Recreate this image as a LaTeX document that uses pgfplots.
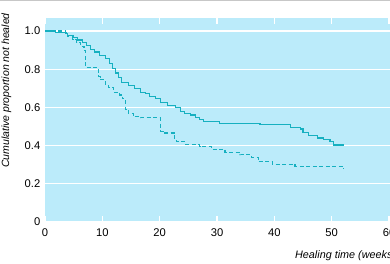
\documentclass[border=0pt]{standalone}
\usepackage{pgfplots}
\pgfplotsset{compat=1.18}
\usepackage{fontspec}
\setmainfont{Liberation Sans}
\usetikzlibrary{calc}
\definecolor{bgcol}{RGB}{187,235,250}
\definecolor{linecol}{RGB}{22,176,192}
\begin{document}
\begin{tikzpicture}
\begin{axis}[
  scale only axis,
  width=345pt, height=204pt,
  xmin=0, xmax=60.17, ymin=0, ymax=1.068,
  axis line style={draw=none},
  axis background/.style={fill=bgcol},
  xtick={0,10,20,30,40,50,60},
  xticklabels={0,10,20,30,40,50,60},
  ytick={0,0.2,0.4,0.6,0.8,1.0},
  yticklabels={0,0.2,0.4,0.6,0.8,1.0},
  tick align=inside,
  major tick length=6pt,
  xtick style={draw=white, line width=1.3pt},
  ytick style={draw=none},
  ymajorgrids,
  major grid style={draw=white, line width=1.3pt},
  tick label style={font=\fontsize{11.2}{13}\selectfont, inner sep=0pt},
  xticklabel style={yshift=-6pt, anchor=north},
  yticklabel style={xshift=-4.5pt, anchor=east},
  every axis x label/.style={at={(rel axis cs:0.7246,-0.181)}, anchor=base west, inner sep=0pt, font=\fontsize{10.8}{13}\selectfont\itshape},
  every axis y label/.style={at={(rel axis cs:-0.1116,0.6446)}, rotate=90, anchor=center, inner sep=0pt, font=\fontsize{10.5}{13}\selectfont\itshape},
  xlabel={Healing time (weeks)},
  ylabel={Cumulative proportion not healed},
  clip=false,
]
\addplot[const plot, linecol, line width=1.1pt] coordinates {
(0,1.0) (1.8,0.993) (3.5,0.985) (4.0,0.975) (5.0,0.965) (5.6,0.953) (6.5,0.94)
(7.2,0.925) (7.9,0.905) (8.6,0.89) (9.5,0.87) (10.5,0.855) (11.2,0.83) (11.8,0.805)
(12.3,0.78) (12.8,0.755) (13.4,0.73) (14.6,0.715) (15.6,0.70) (16.6,0.68) (17.5,0.675)
(18.3,0.655) (19.2,0.645) (20.1,0.625) (21.4,0.61) (22.7,0.60) (23.6,0.58) (24.3,0.57)
(25.3,0.56) (26.2,0.545) (27.0,0.535) (27.6,0.524) (30.5,0.518) (37.5,0.51) (42.8,0.497)
(44.5,0.487) (45.0,0.47) (46.0,0.455) (47.5,0.44) (48.5,0.43) (49.7,0.42) (50.3,0.403)
(52.0,0.398)
};
\addplot[const plot, linecol, line width=1.1pt, dash pattern=on 4pt off 2.5pt] coordinates {
(0,1.0) (3.5,0.99) (4.0,0.97) (4.8,0.955) (5.5,0.94) (6.2,0.92) (6.8,0.90) (7.0,0.81)
(9.0,0.80) (9.3,0.76) (9.7,0.745) (10.5,0.72) (11.0,0.705) (12.0,0.68) (13.0,0.665)
(13.5,0.645) (14.0,0.59) (14.5,0.57) (15.4,0.55) (16.6,0.545) (20.1,0.475) (20.6,0.466)
(22.6,0.425) (23.0,0.42) (24.5,0.408) (27.0,0.395) (29.0,0.38) (31.4,0.364) (34.0,0.352)
(36.0,0.34) (37.2,0.315) (39.6,0.302) (43.6,0.292) (52.0,0.28)
};
\coordinate (o) at (axis cs:0,0);
\end{axis}
\draw[black!22, line width=1pt] ($(o)+(-45pt,221.5pt)$) -- ($(o)+(345pt,221.5pt)$);
\pgfresetboundingbox
\useasboundingbox ($(o)+(-45pt,-42pt)$) rectangle ($(o)+(345pt,222pt)$);
\end{tikzpicture}
\end{document}
